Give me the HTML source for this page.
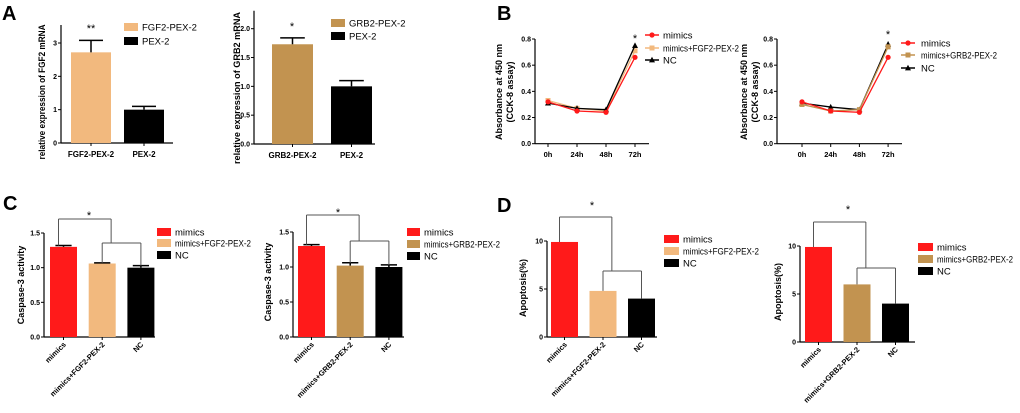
<!DOCTYPE html>
<html><head><meta charset="utf-8"><style>
body{margin:0;background:#fff;width:1020px;height:408px;overflow:hidden}
svg{font-family:"Liberation Sans",Arial,sans-serif}
</style></head><body>
<svg id="s" width="1020" height="408" xmlns="http://www.w3.org/2000/svg"></svg>
<script>
// ---- data ----
const aCats1=["FGF2-PEX-2","PEX-2"], aVals1=[2.72,1.0], aErr1=[3.08,1.1], aTicks1=[0,1,2,3];
const aCats2=["GRB2-PEX-2","PEX-2"], aVals2=[1.73,1.0], aErr2=[1.84,1.1], aTicks2=["0.0","0.5","1.0","1.5","2.0"];
const bTimes=["0h","24h","48h","72h"], bTicks=["0.0","0.2","0.4","0.6","0.8"];
const b1Mimics=[0.32,0.25,0.24,0.66], b1Fgf=[0.33,0.27,0.25,0.71], b1Nc=[0.31,0.27,0.26,0.75];
const b2Mimics=[0.32,0.25,0.24,0.66], b2Grb=[0.30,0.25,0.26,0.74], b2Nc=[0.31,0.28,0.26,0.76];
const cCats1=["mimics","mimics+FGF2-PEX-2","NC"], cVals1=[1.30,1.06,1.0], cErr1=[1.32,1.07,1.03];
const cCats2=["mimics","mimics+GRB2-PEX-2","NC"], cVals2=[1.30,1.02,1.0], cErr2=[1.32,1.06,1.03];
const cTicks=["0.0","0.5","1.0","1.5"];
const dCats1=["mimics","mimics+FGF2-PEX-2","NC"], dVals1=[9.9,4.8,4.0];
const dCats2=["mimics","mimics+GRB2-PEX-2","NC"], dVals2=[9.9,6.0,4.0];
const dTicks=[0,5,10];

const S=document.getElementById('s'),NS="http://www.w3.org/2000/svg";
function el(t,a,txt){const e=document.createElementNS(NS,t);for(const k in a)e.setAttribute(k,a[k]);if(txt!==undefined)e.textContent=txt;S.appendChild(e);return e;}
function ln(x1,y1,x2,y2,w){return el('line',{x1,y1,x2,y2,stroke:'#000','stroke-width':w||1});}
const RED="#ff1a1a",PEACH="#f2b97e",BROWN="#c29350";

function panelLabel(t,x,y){const e=el('text',{x,y,'font-size':20,'font-weight':'bold'},t);

}
panelLabel('A',2,20);panelLabel('B',497,20);panelLabel('C',3,210);panelLabel('D',497,212);

function yAxis(ax,y0,y1,vmax,ticks,name,lx,ly,lab,lab2,llen){
  const Y=v=>y0-(v/vmax)*(y0-y1);
  ln(ax,y0,ax,Y(vmax)-(name==='a'?18:0),1.2);
  ticks.forEach(t=>{const y=Y(+t);ln(ax-3,y,ax,y);
    const e=el('text',{x:ax-4,y:y+2.5,'font-size':7,'font-weight':'bold','text-anchor':'end'},t);
    
    });
  const at={x:lx,y:ly,'font-size':9,'font-weight':'bold','text-anchor':'middle',transform:`rotate(-90 ${lx} ${ly})`};
  if(llen){at.textLength=llen;at.lengthAdjust='spacingAndGlyphs';}
  const e=el('text',at,lab);
  
  
  if(lab2){const f=el('text',{x:lx+11,y:ly,'font-size':9,'font-weight':'bold','text-anchor':'middle',transform:`rotate(-90 ${lx+11} ${ly})`},lab2);
  
  }
  return Y;
}
function legend(items,sx,tx,ys,line){
  items.forEach((it,i)=>{const y=ys[i];
    if(line){ln(sx-7,y,sx+7,y,1.5).setAttribute('stroke',it[1]);marker(sx,y,it[2],it[1]);}
    else{const r=el('rect',{x:sx,y:y-4,width:tx-sx-4,height:8,fill:it[1]});
      
      }
    const at={x:tx,y:y+3.5,'font-size':9.5};
    if(it[0].length>12){at.textLength=76;at.lengthAdjust='spacingAndGlyphs';}
    const t=el('text',at,it[0]);
    
    });
}
function marker(x,y,shape,c){
  let m;
  if(shape==='c')m=el('circle',{cx:x,cy:y,r:2.6,fill:c});
  else if(shape==='s')m=el('rect',{x:x-2.5,y:y-2.5,width:5,height:5,fill:c});
  else m=el('polygon',{points:`${x},${y-3.2} ${x-3},${y+2.4} ${x+3},${y+2.4}`,fill:c});
  
  
}
function star(x,y,t){const e=el('text',{x,y,'font-size':11,'text-anchor':'middle'},t);
  
  }

function bars(o){
  const Y=yAxis(o.ax,o.y0,o.y1,o.vmax,o.ticks,o.nm,o.lx,o.ly,o.lab,null,o.llen);
  ln(o.ax,o.y0,o.xend,o.y0,1.2);
  o.vals.forEach((v,i)=>{const x=o.x0+i*o.step;
    const r=el('rect',{x,y:Y(v),width:o.bw,height:o.y0-Y(v),fill:o.cols[i]});
    
    
    ln(x+o.bw/2,o.y0,x+o.bw/2,o.y0+3);
    if(o.err){const ey=Y(o.err[i]),cx=x+o.bw/2;ln(cx,Y(v),cx,ey,1.5);ln(cx-o.bw*0.3,ey,cx+o.bw*0.3,ey,1.5);}
    let t;
    if(o.rot){const lx=x+o.bw/2+3,ly=o.y0+8;
      t=el('text',{x:lx,y:ly,'font-size':7.5,'font-weight':'bold','text-anchor':'end',transform:`rotate(-45 ${lx} ${ly})`},o.cats[i]);}
    else t=el('text',{x:x+o.bw/2,y:o.y0+14,'font-size':8,'font-weight':'bold','text-anchor':'middle'},o.cats[i]);
    
    
  });
  return Y;
}
function bracket(o,Y,vals,topY,midY,pad){
  const c=i=>o.x0+i*o.step+o.bw/2;
  const g='#555';
  const L=(a,b,cc,d)=>{const e=ln(a,b,cc,d,1);e.setAttribute('stroke',g);};
  L(c(0)-5,topY,c(0)-5+(c(2)-c(0))*0.68,topY);
  const xr=c(0)-5+(c(2)-c(0))*0.68;
  L(c(0)-5,topY,c(0)-5,Y(vals[0])-pad);
  L(xr,topY,xr,midY);
  L(c(1),midY,c(2),midY);
  L(c(1),midY,c(1),Y(vals[1])-pad);
  L(c(2),midY,c(2),Y(vals[2])-pad);
}

// A1
bars({ax:61,y0:143,y1:43,vmax:3,ticks:aTicks1,nm:'a',lx:45,ly:92,lab:"relative expression of FGF2 mRNA",llen:135,
  xend:173,x0:71,step:53,bw:40,vals:aVals1,err:aErr1,cats:aCats1,cols:[PEACH,"#000"]});
star(91,32,"**");
legend([["FGF2-PEX-2",PEACH],["PEX-2","#000"]],124,142,[27,41]);
// A2
bars({ax:254,y0:144,y1:28.7,vmax:2,ticks:aTicks2,nm:'a',lx:240,ly:88,lab:"relative expression of GRB2 mRNA",llen:152,
  xend:375,x0:272,step:59,bw:41,vals:aVals2,err:aErr2,cats:aCats2,cols:[BROWN,"#000"]});
star(292,30,"*");
legend([["GRB2-PEX-2",BROWN],["PEX-2","#000"]],331,349,[23,36]);

function linePanel(o){
  const Y=yAxis(o.ax,143.7,39,0.8,bTicks,'b',o.lx,92,"Absorbance at 450 nm","(CCK-8 assay)");
  ln(o.ax,143.7,o.xend,143.7,1.2);
  const X=i=>o.xs0+i*o.dx;
  bTimes.forEach((t,i)=>{ln(X(i),143.7,X(i),147);
    const e=el('text',{x:X(i),y:157,'font-size':7.5,'font-weight':'bold','text-anchor':'middle'},t);
    
    });
  o.series.forEach(s=>{
    const p=el('polyline',{points:s[0].map((v,i)=>X(i)+','+Y(v)).join(' '),fill:'none',stroke:s[1],'stroke-width':1.3});
    
    
    s[0].forEach((v,i)=>marker(X(i),Y(v),s[2],s[1]));
  });
}
linePanel({ax:535,xend:649,xs0:548,dx:29,lx:502,series:[[b1Fgf,PEACH,'s'],[b1Nc,"#000",'t'],[b1Mimics,RED,'c']]});
star(635,42,"*");
legend([["mimics",RED,'c'],["mimics+FGF2-PEX-2",PEACH,'s'],["NC","#000",'t']],652,663,[35,48,60],true);
linePanel({ax:777,xend:902,xs0:802,dx:28.7,lx:747,series:[[b2Nc,"#000",'t'],[b2Grb,BROWN,'s'],[b2Mimics,RED,'c']]});
star(888,38,"*");
legend([["mimics",RED,'c'],["mimics+GRB2-PEX-2",BROWN,'s'],["NC","#000",'t']],908,921,[43,55,68],true);

// C
let o={ax:44,y0:337,y1:233,vmax:1.5,ticks:cTicks,nm:'c',lx:24,ly:285,lab:"Caspase-3 activity",
  xend:155,x0:50,step:38.7,bw:27,vals:cVals1,err:cErr1,cats:cCats1,cols:[RED,PEACH,"#000"],rot:true};
let Y=bars(o);bracket(o,Y,cErr1,219,243,0);star(89,219,"*");
legend([["mimics",RED],["mimics+FGF2-PEX-2",PEACH],["NC","#000"]],157,175,[232,243,255]);
o={ax:293,y0:337,y1:232,vmax:1.5,ticks:cTicks,nm:'c',lx:271,ly:282,lab:"Caspase-3 activity",
  xend:404,x0:298,step:38.7,bw:27,vals:cVals2,err:cErr2,cats:cCats2,cols:[RED,BROWN,"#000"],rot:true};
Y=bars(o);bracket(o,Y,cErr2,215,241,0);star(338,216,"*");
legend([["mimics",RED],["mimics+GRB2-PEX-2",BROWN],["NC","#000"]],407,424,[232,244,256]);

// D
o={ax:547,y0:337,y1:241,vmax:10,ticks:dTicks,nm:'d',lx:526,ly:288,lab:"Apoptosis(%)",
  xend:657,x0:551,step:38.5,bw:27,vals:dVals1,cats:dCats1,cols:[RED,PEACH,"#000"],rot:true};
Y=bars(o);bracket(o,Y,dVals1,217,271,0);star(592,209,"*");
legend([["mimics",RED],["mimics+FGF2-PEX-2",PEACH],["NC","#000"]],664,683,[239,251,263]);
o={ax:800,y0:342,y1:246,vmax:10,ticks:dTicks,nm:'d',lx:781,ly:292,lab:"Apoptosis(%)",
  xend:915,x0:805,step:38.5,bw:27,vals:dVals2,cats:dCats2,cols:[RED,BROWN,"#000"],rot:true};
Y=bars(o);bracket(o,Y,dVals2,222,268,0);star(848,213,"*");
legend([["mimics",RED],["mimics+GRB2-PEX-2",BROWN],["NC","#000"]],918,937,[247,259,271]);
</script>
</body></html>
